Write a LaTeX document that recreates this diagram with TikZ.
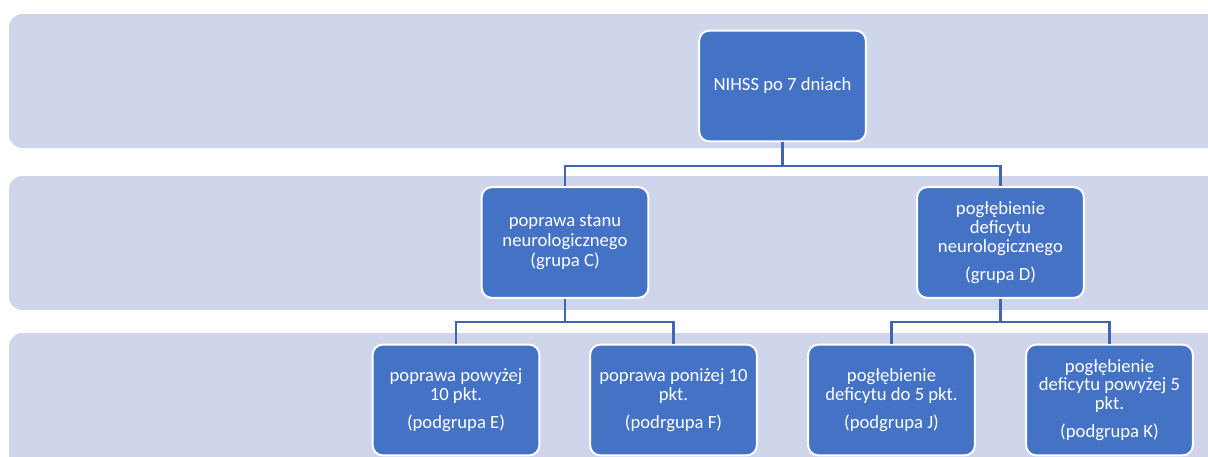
\documentclass[tikz,border=0pt]{standalone}
\usepackage{fontspec}
\setmainfont{Carlito}
\definecolor{boxblue}{HTML}{4472C4}
\definecolor{bandgray}{HTML}{CFD5EA}
\definecolor{linkblue}{HTML}{3F67B1}
\begin{document}
\begin{tikzpicture}[
		x=0.75pt, y=-0.75pt,
		band/.style = {fill=bandgray, rounded corners=10pt},
		grpbox/.style = {rectangle, rounded corners=7.5pt, fill=boxblue, draw=white, line width=1.5pt,
				minimum width=125pt, minimum height=83pt, text=white, align=center, inner sep=2pt,
				font=\fontsize{14}{14}\selectfont},
		link/.style = {draw=linkblue, line width=1.6pt},
	]
	\clip (0,0) rectangle (1208,457);
	\fill[white] (0,0) rectangle (1208,457);
	\fill[band] (9,14) rectangle ++(1240,134);
	\fill[band] (9,176) rectangle ++(1240,134);
	\fill[band] (9,333) rectangle ++(1240,160);
	\node[grpbox] (root) at (782.5,86) {NIHSS po 7 dniach};
	\node[grpbox] (grpC) at (565,242.5) {poprawa stanu\\[1pt]neurologicznego\\[1pt](grupa C)};
	\node[grpbox] (grpD) at (1000.5,242.5) {pogłębienie\\deficytu\\neurologicznego\\[7pt](grupa D)};
	\node[grpbox] (subE) at (456,400) {poprawa powyżej\\10 pkt.\\[7pt](podgrupa E)};
	\node[grpbox] (subF) at (673.5,400) {poprawa poniżej 10\\pkt.\\[7pt](podrgupa F)};
	\node[grpbox] (subJ) at (891.5,400) {pogłębienie\\deficytu do 5 pkt.\\[7pt](podgrupa J)};
	\node[grpbox] (subK) at (1109.5,400) {pogłębienie\\deficytu powyżej 5\\pkt.\\[7pt](podgrupa K)};
	\draw[link] (root.south) -- ++(0,24) coordinate (rootfork) -| (grpC.north);
	\draw[link] (rootfork) -| (grpD.north);
	\draw[link] (grpC.south) -- ++(0,23) coordinate (cfork) -| (subE.north);
	\draw[link] (cfork) -| (subF.north);
	\draw[link] (grpD.south) -- ++(0,23) coordinate (dfork) -| (subJ.north);
	\draw[link] (dfork) -| (subK.north);
\end{tikzpicture}
\end{document}
